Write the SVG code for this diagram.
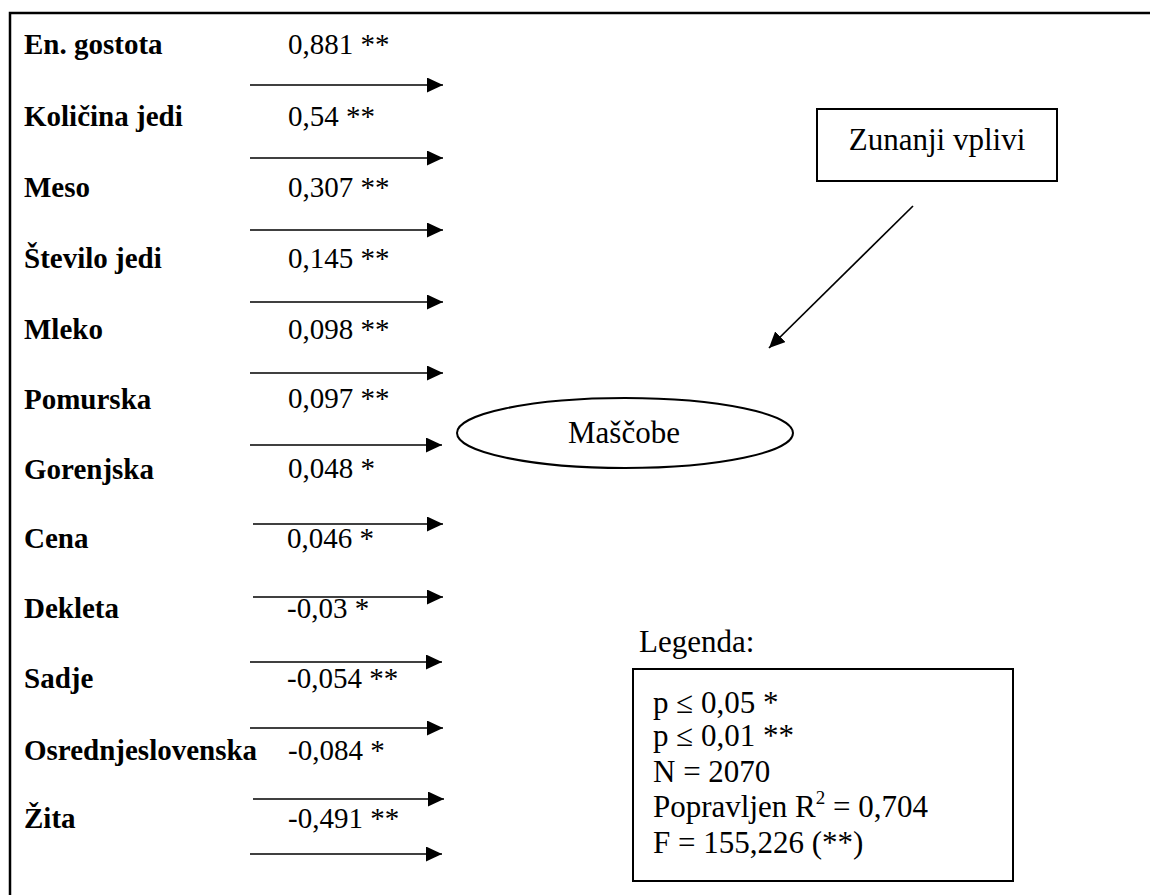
<svg xmlns="http://www.w3.org/2000/svg" width="1150" height="895" viewBox="0 0 1150 895">
  <defs>
    <marker id="arrowhead" markerUnits="userSpaceOnUse" markerWidth="17" markerHeight="15" refX="16" refY="7.5" orient="auto">
      <path d="M0,0 L16,7.5 L0,15 z" fill="#000"/>
    </marker>
    <style>
      .frame { fill: none; stroke: #000; stroke-width: 2.5; }
      .box { fill: #fff; stroke: #000; stroke-width: 2; }
      .name { font-family: "Liberation Serif", "Times New Roman", serif; font-weight: bold; font-size: 29px; fill: #000; }
      .coef { font-family: "Liberation Serif", "Times New Roman", serif; font-size: 29px; fill: #000; }
      .txt { font-family: "Liberation Serif", "Times New Roman", serif; font-size: 31px; fill: #000; }
      .edge { stroke: #000; stroke-width: 1.7; fill: none; marker-end: url(#arrowhead); }
    </style>
  </defs>

  <rect width="1150" height="895" fill="#fff"/>

  <!-- outer frame (continues past the right and bottom edges) -->
  <path class="frame" d="M10,900 V13 H1160"/>

  <!-- predictors with their regression coefficients -->
  <g id="en-gostota"><text class="name" x="24" y="54">En. gostota</text><text class="coef" x="288" y="54">0,881 **</text></g>
  <g id="kolicina-jedi"><text class="name" x="24" y="126">Količina jedi</text><text class="coef" x="288" y="126">0,54 **</text></g>
  <g id="meso"><text class="name" x="24" y="197">Meso</text><text class="coef" x="288" y="197">0,307 **</text></g>
  <g id="stevilo-jedi"><text class="name" x="24" y="268">Število jedi</text><text class="coef" x="288" y="268">0,145 **</text></g>
  <g id="mleko"><text class="name" x="24" y="339">Mleko</text><text class="coef" x="288" y="339">0,098 **</text></g>
  <g id="pomurska"><text class="name" x="24" y="409">Pomurska</text><text class="coef" x="288" y="408">0,097 **</text></g>
  <g id="gorenjska"><text class="name" x="24" y="479">Gorenjska</text><text class="coef" x="288" y="478">0,048 *</text></g>
  <g id="cena"><text class="name" x="24" y="548">Cena</text><text class="coef" x="287" y="548">0,046 *</text></g>
  <g id="dekleta"><text class="name" x="24" y="618">Dekleta</text><text class="coef" x="287" y="618">-0,03 *</text></g>
  <g id="sadje"><text class="name" x="24" y="688">Sadje</text><text class="coef" x="287" y="688">-0,054 **</text></g>
  <g id="osrednjeslovenska"><text class="name" x="24" y="760">Osrednjeslovenska</text><text class="coef" x="288" y="760">-0,084 *</text></g>
  <g id="zita"><text class="name" x="24" y="828">Žita</text><text class="coef" x="288" y="828">-0,491 **</text></g>

  <!-- dependent variable -->
  <g id="mascobe">
    <ellipse class="box" cx="625" cy="433" rx="168" ry="35"/>
    <text class="txt" x="624" y="443" text-anchor="middle">Maščobe</text>
  </g>

  <!-- external influences -->
  <g id="zunanji-vplivi">
    <rect class="box" x="817" y="109" width="240" height="72"/>
    <text class="txt" x="937" y="150" text-anchor="middle">Zunanji vplivi</text>
  </g>

  <!-- legend -->
  <g id="legenda">
    <text class="txt" x="639" y="652">Legenda:</text>
    <rect class="box" x="633" y="669" width="380" height="212"/>
    <text class="txt" x="653" y="713">p ≤ 0,05 *</text>
    <text class="txt" x="653" y="746">p ≤ 0,01 **</text>
    <text class="txt" x="653" y="782">N = 2070</text>
    <text class="txt" x="653" y="817">Popravljen R<tspan font-size="19" dy="-13">2</tspan><tspan dy="13"> = 0,704</tspan></text>
    <text class="txt" x="653" y="853">F = 155,226 (**)</text>
  </g>

  <!-- connectors -->
  <g id="connectors">
    <line class="edge" x1="250" y1="85" x2="443" y2="85"/>
    <line class="edge" x1="250" y1="158" x2="443" y2="158"/>
    <line class="edge" x1="250" y1="230" x2="443" y2="230"/>
    <line class="edge" x1="250" y1="302" x2="443" y2="302"/>
    <line class="edge" x1="250" y1="373" x2="443" y2="373"/>
    <line class="edge" x1="250" y1="445" x2="442" y2="445"/>
    <line class="edge" x1="253" y1="524" x2="443" y2="524"/>
    <line class="edge" x1="253" y1="597" x2="443" y2="597"/>
    <line class="edge" x1="250" y1="662" x2="442" y2="662"/>
    <line class="edge" x1="250" y1="728" x2="443" y2="728"/>
    <line class="edge" x1="253" y1="799" x2="444" y2="799"/>
    <line class="edge" x1="250" y1="854" x2="442" y2="854"/>
    <line class="edge" x1="913" y1="206" x2="769" y2="348"/>
  </g>
</svg>
